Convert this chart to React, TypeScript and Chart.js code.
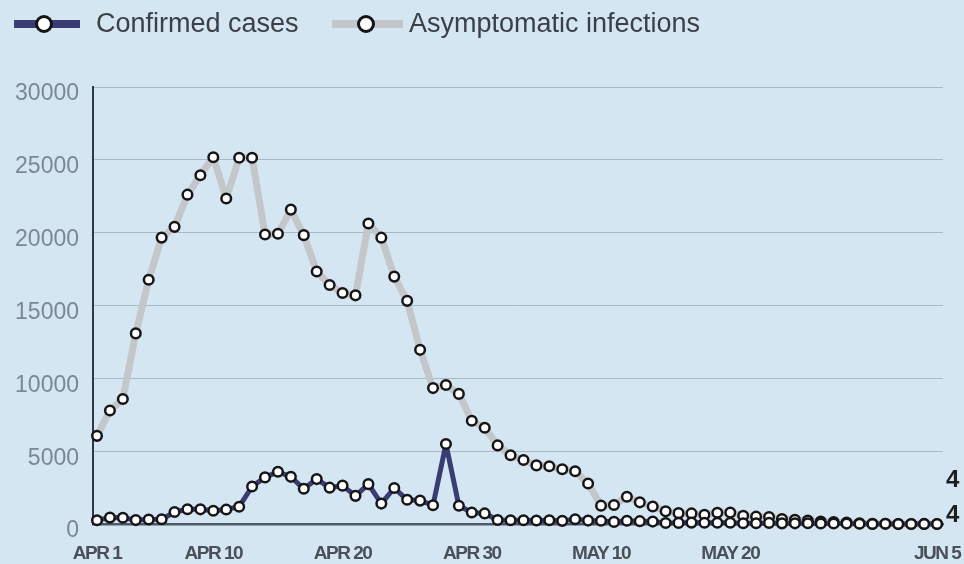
import React, { useEffect, useRef } from "react";
import { Chart, registerables } from "chart.js";

Chart.register(...registerables);

// Categories: Apr 1 .. Jun 5 (66 days)
const monthDays: [string, number][] = [["Apr", 30], ["May", 31], ["Jun", 5]];
const dates: string[] = [];
monthDays.forEach(([m, n]) => {
  for (let d = 1; d <= n; d++) dates.push(`${m} ${d}`);
});

const confirmed = [
  260, 438, 425, 268, 311, 322, 824, 1015, 1006, 914,
  994, 1189, 2573, 3200, 3590, 3238, 2417, 3084, 2494, 2634,
  1931, 2736, 1401, 2472, 1661, 1606, 1292, 5487, 1249, 788,
  727, 274, 260, 261, 245, 253, 215, 322, 234, 228,
  144, 227, 194, 166, 69, 77, 96, 82, 88, 84,
  52, 55, 75, 44, 45, 48, 39, 31, 29, 22,
  5, 15, 2, 5, 4, 4,
];

const asymptomatic = [
  6051, 7788, 8581, 13086, 16766, 19660, 20398, 22609, 23937, 25173,
  22348, 25141, 25146, 19872, 19923, 21582, 19831, 17332, 16407, 15861,
  15698, 20634, 19657, 16983, 15319, 11956, 9330, 9545, 8932, 7084,
  6606, 5395, 4722, 4390, 4024, 3961, 3760, 3625, 2780, 1259,
  1305, 1869, 1487, 1203, 869, 746, 727, 637, 770, 784,
  570, 503, 480, 343, 290, 242, 170, 139, 93, 45,
  10, 11, 3, 4, 6, 4,
];

const xTickIndex = [0, 9, 19, 29, 39, 49, 65];
const xTickLabels = ["APR 1", "APR 10", "APR 20", "APR 30", "MAY 10", "MAY 20", "JUN 5"];
const yTicks = [0, 5000, 10000, 15000, 20000, 25000, 30000];

const BG = "#d4e6f2";
const NAVY = "#3a3c74";
const GRAY = "#c4c7ca";

const bgPlugin = {
  id: "bg",
  beforeDraw(chart: any) {
    const { ctx, width, height } = chart;
    ctx.save();
    ctx.fillStyle = BG;
    ctx.fillRect(0, 0, width, height);
    ctx.restore();
    // condensed look for the date labels of the x axis
    const xs = chart.scales.x;
    if (xs && !xs._condensed) {
      const orig = xs.drawLabels;
      xs.drawLabels = function (area: any) {
        const c = this.ctx;
        c.save();
        try { c.letterSpacing = "-1.5px"; } catch (e) {}
        orig.call(this, area);
        c.restore();
      };
      xs._condensed = true;
    }
  },
};

const legendLayout = [
  { x0: 14, x1: 80, cx: 44, tx: 96 },
  { x0: 332, x1: 403, cx: 366, tx: 409 },
];

const legendPlugin = {
  id: "customLegend",
  afterDraw(chart: any) {
    const ctx = chart.ctx;
    const y = 24;
    chart.data.datasets.forEach((ds: any, i: number) => {
      const L = legendLayout[i];
      ctx.save();
      ctx.strokeStyle = ds.borderColor;
      ctx.lineWidth = 8;
      ctx.beginPath();
      ctx.moveTo(L.x0, y);
      ctx.lineTo(L.x1, y);
      ctx.stroke();
      ctx.beginPath();
      ctx.arc(L.cx, y, 7.5, 0, Math.PI * 2);
      ctx.fillStyle = "#ffffff";
      ctx.fill();
      ctx.lineWidth = 3;
      ctx.strokeStyle = "#141414";
      ctx.stroke();
      ctx.fillStyle = "#3a4046";
      ctx.font = '27px "Liberation Sans", Arial, sans-serif';
      ctx.textBaseline = "middle";
      ctx.textAlign = "left";
      ctx.fillText(ds.label, L.tx, y + 1);
      ctx.restore();
    });
  },
};

const endLabelPlugin = {
  id: "endLabels",
  afterDatasetsDraw(chart: any) {
    const ctx = chart.ctx;
    const offsets = [-9, -44];
    chart.data.datasets.forEach((ds: any, i: number) => {
      const meta = chart.getDatasetMeta(i);
      const pt = meta.data[meta.data.length - 1];
      const val = ds.data[ds.data.length - 1].y;
      ctx.save();
      ctx.fillStyle = "#1e1e1e";
      ctx.font = 'bold 24px "Liberation Sans", Arial, sans-serif';
      ctx.textBaseline = "middle";
      ctx.textAlign = "left";
      ctx.fillText(String(val), pt.x + 9, pt.y + offsets[i]);
      ctx.restore();
    });
  },
};

export default function App() {
  const ref = useRef<HTMLCanvasElement>(null);

  useEffect(() => {
    document.body.style.margin = "0";
    document.body.style.background = BG;
    const canvas = ref.current;
    if (!canvas) return;

    const chart = new Chart(canvas, {
      type: "line",
      data: {
        labels: dates,
        datasets: [
          {
            label: "Confirmed cases",
            data: confirmed.map((v, i) => ({ x: i, y: v })),
            borderColor: NAVY,
            borderWidth: 5,
            pointRadius: 4.8,
            pointBorderWidth: 2.5,
            pointBackgroundColor: "#ffffff",
            pointBorderColor: "#161616",
            tension: 0,
            borderJoinStyle: "round",
            clip: false,
          },
          {
            label: "Asymptomatic infections",
            data: asymptomatic.map((v, i) => ({ x: i, y: v })),
            borderColor: GRAY,
            borderWidth: 7,
            pointRadius: 4.8,
            pointBorderWidth: 2.5,
            pointBackgroundColor: "#ffffff",
            pointBorderColor: "#161616",
            tension: 0,
            borderJoinStyle: "round",
            clip: false,
          },
        ] as any,
      },
      options: {
        animation: false,
        responsive: false,
        maintainAspectRatio: false,
        layout: { padding: { left: 0, right: 21, top: 87, bottom: 0 } },
        plugins: {
          legend: { display: false },
          tooltip: { enabled: false },
        },
        scales: {
          x: {
            type: "linear",
            min: -0.31,
            max: 65.46,
            afterBuildTicks: (scale: any) => {
              scale.ticks = xTickIndex.map((v) => ({ value: v }));
            },
            afterFit: (scale: any) => {
              scale.height = 40;
              scale.paddingLeft = 0;
              scale.paddingRight = 0;
            },
            grid: { display: false, drawTicks: false },
            border: { display: true, color: "#4e5a66", width: 2.5 },
            ticks: {
              autoSkip: false,
              maxRotation: 0,
              padding: 18,
              color: "#4a5058",
              font: { family: '"Liberation Sans", Arial', size: 19, weight: "bold" },
              callback: (value: any) => {
                const k = xTickIndex.indexOf(Number(value));
                return k >= 0 ? xTickLabels[k] : "";
              },
            },
          },
          y: {
            type: "linear",
            min: 0,
            max: 30000,
            afterBuildTicks: (scale: any) => {
              scale.ticks = yTicks.map((v) => ({ value: v }));
            },
            afterFit: (scale: any) => {
              scale.width = 93;
              scale.paddingTop = 0;
              scale.paddingBottom = 0;
            },
            grid: { color: "#a9b8c4", lineWidth: 1, drawTicks: false },
            border: { display: true, color: "#2e3843", width: 2 },
            ticks: {
              padding: 14,
              labelOffset: 7,
              color: "#7b8893",
              font: { family: '"Liberation Sans", Arial', size: 23 },
              callback: (value: any) => String(value),
            },
          },
        },
      },
      plugins: [bgPlugin, legendPlugin, endLabelPlugin],
    });

    return () => chart.destroy();
  }, []);

  return (
    <div style={{ width: 964, height: 564, background: BG }}>
      <canvas ref={ref} width={964} height={564} style={{ display: "block", width: 964, height: 564 }} />
    </div>
  );
}
